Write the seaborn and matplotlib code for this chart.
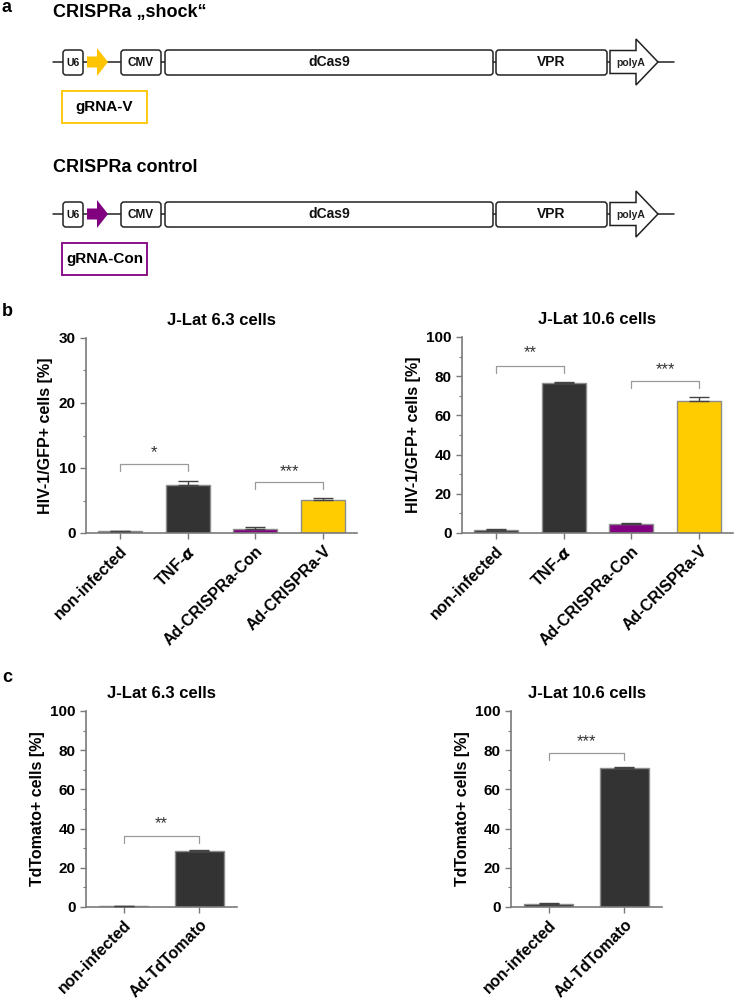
import numpy as np
import pandas as pd
import matplotlib
matplotlib.use("Agg")
import matplotlib.pyplot as plt
import seaborn as sns
from matplotlib.patches import FancyBboxPatch, Polygon, Rectangle
from matplotlib.ticker import MultipleLocator

sns.set_theme(style="ticks")
plt.rcParams['font.family'] = ['Liberation Sans', 'DejaVu Sans']
plt.rcParams['font.weight'] = 'bold'
plt.rcParams['mathtext.fontset'] = 'dejavusans'
plt.rcParams['text.color'] = 'black'
plt.rcParams['axes.labelcolor'] = 'black'
plt.rcParams['xtick.color'] = 'black'
plt.rcParams['ytick.color'] = 'black'

# ---------------- data ----------------
b_categories = ["non-infected", "TNF-$\\alpha$", "Ad-CRISPRa-Con", "Ad-CRISPRa-V"]
b_colors = ["#333333", "#333333", "#800080", "#FFCC00"]
b63_values = [0.26, 7.4, 0.66, 5.1]
b63_errors = [0.1, 0.6, 0.2, 0.3]
b106_values = [1.5, 76.7, 4.4, 67.3]
b106_errors = [0.5, 0.3, 0.5, 1.9]

c_categories = ["non-infected", "Ad-TdTomato"]
c_colors = ["#333333", "#333333"]
c63_values = [0.3, 28.6]
c63_errors = [0.1, 0.7]
c106_values = [1.7, 70.9]
c106_errors = [0.5, 0.4]

# significance brackets: (i, j, bar height, leg bottom, label, label y)
b63_sig = [(0, 1, 10.6, 9.5, "*", 12.4), (2, 3, 7.86, 6.8, "***", 9.4)]
b106_sig = [(0, 1, 85.4, 81.6, "**", 91.8), (2, 3, 77.6, 74.0, "***", 83.3)]
c63_sig = [(0, 1, 36.4, 32.7, "**", 42.5)]
c106_sig = [(0, 1, 78.6, 74.8, "***", 84.2)]

W, H = 736, 999
fig = plt.figure(figsize=(W / 100, H / 100), dpi=100)

# ---------------- overlay for diagrams / letters ----------------
ov = fig.add_axes([0, 0, 1, 1], zorder=0)
ov.set_xlim(0, W)
ov.set_ylim(H, 0)
ov.axis("off")

EDGE = "#222222"


def construct(ax, y0, ty, title, color, grna):
    ax.text(53, ty, title, fontsize=13, weight="bold", va="center", ha="left")
    ax.plot([53, 674], [y0, y0], color=EDGE, lw=1.1, zorder=1)
    for (x1, x2, lab, fs) in [(63, 83, "U6", 7.5), (121, 161, "CMV", 8.5),
                              (165, 493, "dCas9", 10), (496, 607, "VPR", 10)]:
        bx = FancyBboxPatch((x1, y0 - 12), x2 - x1, 25,
                            boxstyle="round,pad=0,rounding_size=3",
                            fc="white", ec=EDGE, lw=1.1, zorder=2)
        ax.add_patch(bx)
        ax.text((x1 + x2) / 2, y0 + 0.5, lab, fontsize=fs, weight="bold",
                ha="center", va="center", zorder=3, color="#111111")
    arr = Polygon([(87, y0 - 5.5), (97, y0 - 5.5), (97, y0 - 14), (108, y0),
                   (97, y0 + 14), (97, y0 + 5.5), (87, y0 + 5.5)],
                  closed=True, fc=color, ec="none", zorder=2)
    ax.add_patch(arr)
    pa = Polygon([(610, y0 - 11.5), (636, y0 - 11.5), (636, y0 - 23), (658, y0),
                  (636, y0 + 23), (636, y0 + 11.5), (610, y0 + 11.5)],
                 closed=True, fc="white", ec=EDGE, lw=1.1, zorder=2, joinstyle="miter")
    ax.add_patch(pa)
    ax.text(631, y0 + 0.5, "polyA", fontsize=7.5, weight="bold", ha="center",
            va="center", zorder=3, color="#222222")
    ax.add_patch(Rectangle((62, y0 + 29), 85, 32, fc="none", ec=color, lw=1.3))
    ax.text(104.5, y0 + 45, grna, fontsize=11, weight="bold", ha="center",
            va="center")


construct(ov, 62, 13, "CRISPRa \u201eshock\u201c", "#FFC400", "gRNA-V")
construct(ov, 214, 168, "CRISPRa control", "#800080", "gRNA-Con")

for (x, y, s) in [(7, 8, "a"), (7, 312, "b"), (7, 678, "c")]:
    ov.text(x, y, s, fontsize=13, weight="bold", ha="center", va="center")

# ---------------- bar charts ----------------
SPINE = "#7a7a7a"


def px_axes(x1, x2, ytop, ybot):
    return fig.add_axes([x1 / W, 1 - ybot / H, (x2 - x1) / W, (ybot - ytop) / H],
                        zorder=2)


def bar_panel(ax, cats, vals, errs, colors, title, ylabel, ymax, major, minor, sigs):
    df = pd.DataFrame({"cat": cats, "val": vals})
    sns.barplot(data=df, x="cat", y="val", hue="cat", palette=colors,
                legend=False, width=0.65, edgecolor="#8c8c8c", linewidth=1,
                errorbar=None, ax=ax, saturation=1)
    xs = np.arange(len(cats))
    ax.errorbar(xs, vals, yerr=[np.zeros(len(vals)), errs], fmt="none",
                ecolor="#444444", elinewidth=1, capsize=7, capthick=1, zorder=3)
    ax.set_xlim(-0.5, len(cats) - 0.5)
    ax.set_ylim(0, ymax)
    ax.yaxis.set_major_locator(MultipleLocator(major))
    ax.yaxis.set_minor_locator(MultipleLocator(minor))
    sns.despine(ax=ax)
    for sp in ["left", "bottom"]:
        ax.spines[sp].set_color(SPINE)
        ax.spines[sp].set_linewidth(1.2)
    ax.tick_params(axis="both", which="major", direction="out", color=SPINE,
                   length=4, width=1, labelsize=11, labelcolor="black")
    ax.tick_params(axis="y", which="minor", direction="out", color=SPINE,
                   length=2.5, width=0.8, left=True)
    ax.set_xticks(xs)
    ax.set_xticklabels(cats, rotation=45, ha="right", rotation_mode="anchor",
                       fontsize=11.5, weight="bold")
    for lab in ax.get_yticklabels():
        lab.set_fontweight("bold")
    ax.set_xlabel("")
    ax.set_ylabel(ylabel, fontsize=11.5, weight="bold", labelpad=4)
    ax.set_title(title, fontsize=12, weight="bold", pad=9)
    for (i, j, top, leg, lab, ly) in sigs:
        ax.plot([i, i, j, j], [leg, top, top, leg], color="#9a9a9a", lw=0.9,
                clip_on=False)
        ax.text((i + j) / 2, ly, lab, ha="center", va="center", fontsize=12,
                weight="normal", color="#333333")


ax1 = px_axes(86, 357, 338, 533)
bar_panel(ax1, b_categories, b63_values, b63_errors, b_colors, "J-Lat 6.3 cells",
          "HIV-1/GFP+ cells [%]", 30, 10, 5, b63_sig)
ax2 = px_axes(462, 733, 337, 533)
bar_panel(ax2, b_categories, b106_values, b106_errors, b_colors, "J-Lat 10.6 cells",
          "HIV-1/GFP+ cells [%]", 100, 20, 10, b106_sig)
ax3 = px_axes(86, 237, 711, 907)
bar_panel(ax3, c_categories, c63_values, c63_errors, c_colors, "J-Lat 6.3 cells",
          "TdTomato+ cells [%]", 100, 20, 10, c63_sig)
ax4 = px_axes(511, 662, 711, 907)
bar_panel(ax4, c_categories, c106_values, c106_errors, c_colors, "J-Lat 10.6 cells",
          "TdTomato+ cells [%]", 100, 20, 10, c106_sig)

fig.savefig("out.png", dpi=100, facecolor="white")
